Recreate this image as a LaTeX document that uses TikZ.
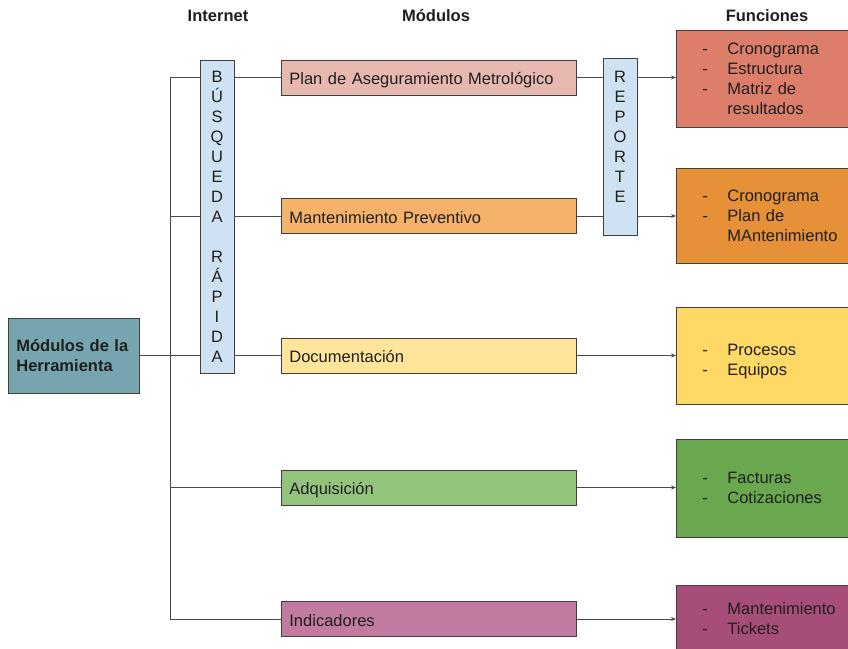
\documentclass[tikz,border=0pt]{standalone}
\usepackage{fontspec}
\setmainfont{Liberation Sans}
\usetikzlibrary{arrows.meta}
\definecolor{bordc}{HTML}{404040}
\definecolor{linec}{HTML}{4A4A4A}
\definecolor{txtc}{HTML}{1F1F1F}
\definecolor{mainc}{HTML}{76A5AF}
\definecolor{bluec}{HTML}{CFE2F3}
\definecolor{ma}{HTML}{E6B8AF}
\definecolor{mb}{HTML}{F6B26B}
\definecolor{mc}{HTML}{FFE599}
\definecolor{md}{HTML}{93C47D}
\definecolor{me}{HTML}{C27BA0}
\definecolor{fa}{HTML}{DD7E6B}
\definecolor{fb}{HTML}{E69138}
\definecolor{fc}{HTML}{FFD966}
\definecolor{fd}{HTML}{6AA84F}
\definecolor{fe}{HTML}{A64D79}
\newcommand\fitm[1]{\makebox[25pt][l]{-}#1}
\begin{document}
\begin{tikzpicture}[x=1pt,y=-1pt,
  every node/.style={text=txtc},
  basebox/.style={draw=bordc, line width=0.8pt, inner ysep=0pt},
  modbox/.style={basebox, anchor=west, minimum height=35pt, text width=279pt, text height=15pt, text depth=1pt, inner xsep=8pt, align=left, font=\fontsize{16.5}{20}\selectfont},
  funbox/.style={basebox, anchor=west, text width=150pt, inner xsep=26pt, align=left, font=\fontsize{16.5}{20}\selectfont},
  colbox/.style={basebox, fill=bluec, minimum width=34pt, inner xsep=0pt, align=center, font=\fontsize{16.5}{20}\selectfont},
  header/.style={font=\bfseries\fontsize{16.5}{19}\selectfont},
  conn/.style={draw=linec, line width=0.8pt},
  arr/.style={conn, -{Stealth[length=5pt,width=4pt]}}
]
\useasboundingbox (0,0) rectangle (848,648);
\fill[white] (0,0) rectangle (848,648);

% headers
\node[header] (h1) at (218,16) {Internet};
\node[header] (h2) at (436,16) {Módulos};
\node[header] (h3) at (767,16) {Funciones};

% main box
\node[basebox, fill=mainc, anchor=west, minimum height=75pt, text width=115pt, inner xsep=8pt, align=left, font=\bfseries\fontsize{16.5}{20}\selectfont] (main) at (8,355.5) {Módulos de la\\Herramienta};

% columns
\node[colbox, minimum height=313pt] (bus) at (217,216.5) {B\\Ú\\S\\Q\\U\\E\\D\\A\\[20pt]R\\Á\\P\\I\\D\\A};
\node[colbox, minimum height=177pt] (rep) at (620,147) {R\\E\\P\\O\\R\\T\\E\\ \mbox{}};

% modules
\node[modbox, fill=ma] (m1) at (281,77.5) {Plan de Aseguramiento Metrológico};
\node[modbox, fill=mb] (m2) at (281,216) {Mantenimiento Preventivo};
\node[modbox, fill=mc] (m3) at (281,355.5) {Documentación};
\node[modbox, fill=md] (m4) at (281,487.5) {Adquisición};
\node[modbox, fill=me] (m5) at (281,619) {Indicadores};

% functions
\begin{scope}
\clip (0,0) rectangle (848,648);
\node[funbox, fill=fa, minimum height=97pt] (f1) at (676,78.5) {\fitm{Cronograma}\\\fitm{Estructura}\\\fitm{Matriz de}\\\makebox[25pt]{}resultados};
\node[funbox, fill=fb, minimum height=95pt] (f2) at (676,215.5) {\fitm{Cronograma}\\\fitm{Plan de}\\\makebox[25pt]{}MAntenimiento};
\node[funbox, fill=fc, minimum height=97pt] (f3) at (676,355.5) {\rule{0pt}{23pt}\fitm{Procesos}\\\fitm{Equipos}};
\node[funbox, fill=fd, minimum height=98pt] (f4) at (676,488) {\fitm{Facturas}\\\fitm{Cotizaciones}};
\node[funbox, fill=fe, minimum height=68pt] (f5) at (676,619) {\fitm{Mantenimiento}\\\fitm{Tickets}};
\end{scope}

% trunk
\coordinate (j) at (170,355.5);
\draw[conn] (main.east) -- (j);
\draw[conn] (j |- m1.west) -- (j |- m5.west);
\foreach \m in {m1,m2,m3}{
  \draw[conn] (j |- \m.west) -- (bus.west |- \m.west);
  \draw[conn] (bus.east |- \m.west) -- (\m.west);
}
\foreach \m in {m4,m5}{
  \draw[conn] (j |- \m.west) -- (\m.west);
}
% to functions
\draw[conn] (m1.east) -- (rep.west |- m1.east);
\draw[arr] (rep.east |- m1.east) -- (f1.west |- m1.east);
\draw[conn] (m2.east) -- (rep.west |- m2.east);
\draw[arr] (rep.east |- m2.east) -- (f2.west |- m2.east);
\draw[arr] (m3.east) -- (f3.west |- m3.east);
\draw[arr] (m4.east) -- (f4.west |- m4.east);
\draw[arr] (m5.east) -- (f5.west |- m5.east);
\end{tikzpicture}
\end{document}
